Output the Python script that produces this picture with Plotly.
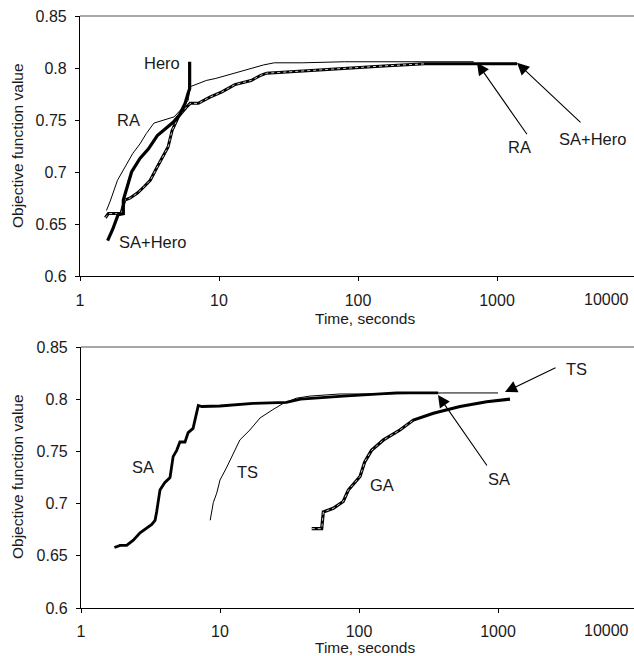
import math
import plotly.graph_objects as go
from plotly.subplots import make_subplots

# ---------------- data (top panel) ----------------
hero_x = [1.58, 1.72, 1.88, 2.05, 2.05, 2.2, 2.35, 2.7, 3.1, 3.6, 4.2, 4.7, 5.2, 5.7, 6.0, 6.15, 6.15]
hero_y = [0.634, 0.645, 0.659, 0.660, 0.673, 0.688, 0.700, 0.713, 0.722, 0.735, 0.742, 0.748, 0.755, 0.766, 0.776, 0.780, 0.806]

ra_x = [1.55, 1.65, 1.86, 2.1, 2.4, 2.7, 3.0, 3.4, 4.0, 4.75, 5.5, 6.0, 6.2, 7.0, 8.1, 9.5, 11.3, 14, 17, 21, 25, 40, 80, 200, 680]
ra_y = [0.663, 0.672, 0.692, 0.705, 0.718, 0.727, 0.737, 0.747, 0.750, 0.753, 0.762, 0.769, 0.782, 0.785, 0.788, 0.790, 0.793, 0.796, 0.800, 0.803, 0.805, 0.805, 0.806, 0.806, 0.806]

sah_x = [1.52, 1.6, 1.97, 2.1, 2.3, 2.6, 2.9, 3.2, 3.6, 3.9, 4.3, 4.6, 5.1, 5.8, 6.2, 7.1, 8.6, 10.5, 13, 17, 20, 22, 29, 43, 79, 154, 303, 700, 1393]
sah_y = [0.656, 0.660, 0.660, 0.673, 0.675, 0.680, 0.686, 0.692, 0.705, 0.714, 0.724, 0.740, 0.753, 0.762, 0.766, 0.766, 0.772, 0.777, 0.784, 0.788, 0.793, 0.795, 0.796, 0.798, 0.800, 0.802, 0.804, 0.804, 0.804]

# ---------------- data (bottom panel) ----------------
sa_x = [1.74, 1.91, 2.13, 2.38, 2.66, 2.97, 3.23, 3.41, 3.5, 3.7, 4.0, 4.37, 4.6, 4.88, 5.15, 5.6, 5.9, 6.4, 6.98, 7.4, 10, 17.3, 30, 38, 77, 187, 371]
sa_y = [0.658, 0.660, 0.660, 0.665, 0.672, 0.677, 0.680, 0.684, 0.692, 0.713, 0.720, 0.725, 0.745, 0.751, 0.759, 0.759, 0.768, 0.772, 0.794, 0.793, 0.7935, 0.796, 0.797, 0.800, 0.803, 0.806, 0.806]

ts_x = [8.5, 8.95, 9.47, 10, 11.2, 12.5, 13.9, 16.4, 19.4, 24, 28.5, 35.5, 44.5, 73, 150, 400, 1000]
ts_y = [0.684, 0.701, 0.710, 0.7226, 0.735, 0.7485, 0.761, 0.7705, 0.782, 0.790, 0.796, 0.801, 0.803, 0.805, 0.805, 0.806, 0.806]

ga_x = [45.7, 53.9, 55.4, 65.3, 77, 83.8, 101.7, 110, 123, 150, 197, 246, 343, 533, 829, 1220]
ga_y = [0.676, 0.676, 0.692, 0.6955, 0.702, 0.713, 0.726, 0.740, 0.751, 0.761, 0.7705, 0.780, 0.7865, 0.793, 0.7976, 0.800]

x_ticks = [1, 10, 100, 1000]
x_tick_labels = ["1", "10", "100", "1000"]
y_ticks = [0.6, 0.65, 0.7, 0.75, 0.8, 0.85]
y_tick_labels = ["0.6", "0.65", "0.7", "0.75", "0.8", "0.85"]

FONT = "Liberation Sans, Arial, sans-serif"
W, H = 634, 656

fig = make_subplots(rows=2, cols=1)

def line(x, y, width, row, color="black", dash=None):
    fig.add_trace(go.Scatter(x=x, y=y, mode="lines",
                             line=dict(color=color, width=width, dash=dash),
                             showlegend=False, hoverinfo="skip"), row=row, col=1)

# top
line(ra_x, ra_y, 1.0, 1)
line(sah_x, sah_y, 3.0, 1)
k = sum(1 for v in sah_x if v < 400)
line(sah_x[:k], sah_y[:k], 0.8, 1, color="white", dash="dot")
line(hero_x, hero_y, 3.2, 1)
# bottom
line(ts_x, ts_y, 1.0, 2)
line(sa_x, sa_y, 2.8, 2)
line(ga_x, ga_y, 3.2, 2)
k2 = sum(1 for v in ga_x if v < 300)
line(ga_x[:k2], ga_y[:k2], 0.8, 2, color="white", dash="dot")

# geometry (pixels)
top_px, bot_px = (16, 276), (347, 608)
x0_top, x0_bot = 80, 81
decade = 139.0

def ydom(a, b):
    return [(H - b) / H, (H - a) / H]

axis_common = dict(showgrid=False, zeroline=False, showline=True, linecolor="black",
                   linewidth=1.2, ticks="outside", tickcolor="black", ticklen=4,
                   automargin=False,
                   tickfont=dict(family=FONT, size=16, color="#1a1a1a"))

fig.update_xaxes(type="log", tickvals=x_ticks, ticktext=x_tick_labels,
                 ticklabelstandoff=6, **axis_common)
fig.update_yaxes(range=[0.6, 0.85], tickvals=y_ticks, ticktext=y_tick_labels,
                 ticklabelstandoff=5, **axis_common)
fig.update_layout(
    xaxis=dict(domain=[x0_top / W, 1], range=[0, (W - x0_top) / decade]),
    xaxis2=dict(domain=[x0_bot / W, 1], range=[0, (W - x0_bot) / decade],
                ticklabelstandoff=5),
    yaxis=dict(domain=ydom(*top_px)),
    yaxis2=dict(domain=ydom(*bot_px)),
)

# top borders
for xr, yr in (("x domain", "y domain"), ("x2 domain", "y2 domain")):
    fig.add_shape(type="line", xref=xr, yref=yr, x0=0, x1=1, y0=1, y1=1,
                  line=dict(color="#8a8a8a", width=1.5))

ann = []
def text(s, x, y, xr, yr, size=16.5, **kw):
    ann.append(dict(text=s, x=x, y=y, xref=xr, yref=yr, showarrow=False,
                    xanchor="center", yanchor="middle",
                    font=dict(family=FONT, size=size, color="#1a1a1a"), **kw))

def arrow(x, y, ax, ay, xr, yr):
    ann.append(dict(text="", x=math.log10(x), y=y, xref=xr, yref=yr, ax=ax, ay=ay,
                    showarrow=True, arrowhead=2, arrowsize=2.2, arrowwidth=1.1,
                    arrowcolor="black", standoff=0))

L = math.log10
# top labels
text("Hero", L(3.9), 0.805, "x", "y")
text("RA", L(2.25), 0.75, "x", "y")
text("SA+Hero", L(3.3), 0.6327, "x", "y")
text("RA", L(1462), 0.724, "x", "y")
text("SA+Hero", L(4900), 0.7317, "x", "y")
arrow(718, 0.805, 51, 73, "x", "y")
arrow(1393, 0.805, 65, 61, "x", "y")
# bottom labels
text("SA", L(2.79), 0.735, "x2", "y2")
text("TS", L(15.9), 0.730, "x2", "y2")
text("GA", L(146), 0.718, "x2", "y2")
text("SA", L(1016), 0.7236, "x2", "y2")
text("TS", L(3700), 0.829, "x2", "y2")
arrow(370, 0.804, 50, 72, "x2", "y2")
arrow(1123, 0.8069, 52, -25, "x2", "y2")

# "10000" tick labels (tick itself lies just past the cropped right edge)
for yc in (299, 630):
    text("10000", 606 / W, (H - yc) / H, "paper", "paper", size=16)
# axis titles
for yc in (318, 647):
    text("Time, seconds", 365 / W, (H - yc) / H, "paper", "paper", size=15.5)
for yc in (146, 477):
    text("Objective function value", 18 / W, (H - yc) / H, "paper", "paper",
         size=15.5, textangle=-90)

fig.update_layout(
    width=W, height=H, margin=dict(l=0, r=0, t=0, b=0, autoexpand=False),
    paper_bgcolor="white", plot_bgcolor="white",
    annotations=ann, showlegend=False,
    font=dict(family=FONT, size=16, color="#1a1a1a"),
)

fig.write_html("out.html", config={"displayModeBar": False},
               post_script="document.body.style.margin='0';document.body.style.overflow='hidden';")
